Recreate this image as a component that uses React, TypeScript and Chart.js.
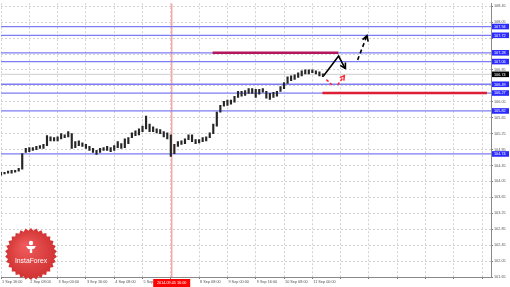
import React, { useEffect, useRef } from 'react';
import { Chart, registerables } from 'chart.js';

Chart.register(...registerables);

// ---- price data (H1 chart, sampled as 2-hour ranges) ----
const barHours = [
  0, 2, 4, 6, 8, 10, 12, 14, 16, 18, 20, 22, 24, 26, 28, 30, 32, 34, 36, 38,
  40, 42, 44, 46, 48, 50, 52, 54, 56, 58, 60, 62, 64, 66, 68, 70, 72, 74, 76, 78,
  80, 82, 84, 86, 88, 90, 92, 94, 96, 98, 100, 102, 104, 106, 108, 110, 112, 114, 116, 118,
  120, 122, 124, 126, 128, 130, 132, 134, 136, 138, 140, 142, 144, 146, 148, 150, 152, 154, 156, 158,
  160, 162, 164, 166, 168, 170, 172, 174, 176, 178, 180, 182,
];
const barLows = [
  104.21, 104.24, 104.26, 104.26, 104.28, 104.31, 104.36, 104.78, 104.80, 104.83,
  104.85, 104.88, 104.88, 104.95, 105.07, 105.07, 105.07, 105.12, 105.15, 105.17,
  104.88, 104.90, 104.95, 104.93, 104.88, 104.83, 104.78, 104.73, 104.78, 104.83,
  104.83, 104.80, 104.83, 104.90, 104.88, 104.90, 105.00, 105.15, 105.20, 105.22,
  105.30, 105.37, 105.30, 105.30, 105.27, 105.25, 105.17, 105.12, 104.68, 104.75,
  104.93, 104.98, 105.00, 105.10, 105.05, 105.00, 105.02, 105.05, 105.07, 105.15,
  105.25, 105.44, 105.79, 105.94, 105.96, 105.99, 106.04, 106.16, 106.19, 106.21,
  106.26, 106.26, 106.16, 106.24, 106.29, 106.14, 106.11, 106.16, 106.19, 106.31,
  106.38, 106.51, 106.58, 106.61, 106.66, 106.70, 106.75, 106.75, 106.78, 106.75,
  106.70, 106.68,
];
const barHighs = [
  104.28, 104.28, 104.31, 104.33, 104.33, 104.38, 104.75, 104.88, 104.90, 104.90,
  104.93, 104.95, 104.98, 105.20, 105.17, 105.15, 105.17, 105.25, 105.22, 105.30,
  105.25, 105.05, 105.07, 105.02, 104.98, 104.93, 104.88, 104.83, 104.88, 104.90,
  104.93, 104.90, 104.95, 105.05, 105.00, 105.12, 105.15, 105.27, 105.32, 105.37,
  105.44, 105.69, 105.49, 105.42, 105.37, 105.35, 105.30, 105.27, 105.22, 104.98,
  105.05, 105.07, 105.12, 105.22, 105.22, 105.10, 105.10, 105.15, 105.17, 105.27,
  105.49, 105.79, 105.96, 106.06, 106.09, 106.09, 106.19, 106.31, 106.31, 106.33,
  106.38, 106.38, 106.36, 106.36, 106.38, 106.31, 106.26, 106.29, 106.31, 106.43,
  106.53, 106.68, 106.70, 106.73, 106.78, 106.83, 106.85, 106.85, 106.85, 106.83,
  106.80, 106.75,
];

// ---- axes ----
const xMin = 0;
const xMax = 277;
const xTickHours = [0, 16, 32, 48, 64, 80, 96, 112, 128, 144, 160, 176, 192, 208, 224, 240, 256, 272];
const xTickLabels = [
  '1 Sep 16:00', '2 Sep 08:00', '3 Sep 00:00', '3 Sep 16:00', '4 Sep 08:00', '5 Sep 00:00',
  '', '8 Sep 08:00', '9 Sep 00:00', '9 Sep 16:00', '10 Sep 08:00', '11 Sep 00:00',
];
const highlightHour = 96.5;
const highlightLabel = '2014.09.05 16:00';

const yMin = 101.65;
const yMax = 108.524;
const yTickValues = [
  101.65, 102.05, 102.45, 102.85, 103.25, 103.65, 104.05, 104.45, 104.85,
  105.25, 105.65, 106.05, 106.45, 106.85, 107.25, 107.65, 108.05, 108.45,
];

// ---- drawn levels ----
const blueLevels = [107.94, 107.72, 107.28, 107.06, 106.49, 106.27, 105.82, 104.74];
const currentPrice = 106.74;
const magentaHours = [119.6, 190.7];
const magentaPrice = 107.28;
const redHours = [181.7, 274.7];
const redPrice = 106.27;

// ---- forecast arrows ----
const blackPathHours = [182.4, 190.85, 194.6];
const blackPathPrices = [106.705, 107.2, 106.886];
const blackHeadHours = [191.75, 194.6, 194.7];
const blackHeadPrices = [106.966, 106.886, 107.035];
const blackDashHours = [201.6, 206.9];
const blackDashPrices = [107.102, 107.713];
const blackDashHeadHours = [204.4, 206.9, 207.55];
const blackDashHeadPrices = [107.613, 107.713, 107.559];
const redDash1Hours = [183.9, 188.0];
const redDash1Prices = [106.606, 106.44];
const redDash2Hours = [190.3, 194.1];
const redDash2Prices = [106.472, 106.705];
const redHeadHours = [191.5, 194.1, 193.8];
const redHeadPrices = [106.656, 106.705, 106.581];

const FONT = 'Liberation Sans, Arial, sans-serif';

const pts = (xs: number[], ys: number[]) => xs.map((x, i) => ({ x, y: ys[i] }));

const overlayPlugin = {
  id: 'overlay',
  afterDraw(chart: any) {
    const { ctx, chartArea, scales } = chart;
    const ys = scales.y;
    const xs = scales.x;
    ctx.save();
    // y axis price boxes
    ctx.font = `3.8px ${FONT}`;
    ctx.textBaseline = 'middle';
    ctx.textAlign = 'left';
    const boxes = blueLevels.map((v) => ({ v, bg: '#2a2aff' })).concat([{ v: currentPrice, bg: '#000000' }]);
    boxes.forEach(({ v, bg }) => {
      const py = ys.getPixelForValue(v);
      ctx.fillStyle = bg;
      ctx.fillRect(chartArea.right + 1, py - 2.8, 17, 5.6);
      ctx.fillStyle = '#ffffff';
      ctx.fillText(v.toFixed(2), chartArea.right + 3, py + 0.2);
    });
    // x highlight label
    const hx = xs.getPixelForValue(highlightHour);
    ctx.fillStyle = '#ff0000';
    ctx.fillRect(hx - 18.5, chartArea.bottom + 2, 37, 8);
    ctx.fillStyle = '#ffffff';
    ctx.textAlign = 'center';
    ctx.font = `3.8px ${FONT}`;
    ctx.fillText(highlightLabel, hx, chartArea.bottom + 6.2);

    // InstaForex logo (decoration)
    const cx = 31;
    const cy = 254;
    const teeth = 30;
    ctx.beginPath();
    for (let i = 0; i < teeth * 2; i++) {
      const r = i % 2 === 0 ? 26 : 23.5;
      const a = (Math.PI * i) / teeth - Math.PI / 2;
      const px = cx + r * Math.cos(a);
      const py = cy + r * Math.sin(a);
      if (i === 0) ctx.moveTo(px, py);
      else ctx.lineTo(px, py);
    }
    ctx.closePath();
    const g = ctx.createRadialGradient(cx - 6, cy - 8, 2, cx, cy, 27);
    g.addColorStop(0, '#ee5a5a');
    g.addColorStop(1, '#d03030');
    ctx.fillStyle = g;
    ctx.fill();
    // icon
    ctx.fillStyle = '#ffffff';
    ctx.beginPath();
    ctx.arc(cx, cy - 11, 2.2, 0, Math.PI * 2);
    ctx.fill();
    ctx.beginPath();
    ctx.moveTo(cx - 5, cy - 8);
    ctx.lineTo(cx + 5, cy - 8);
    ctx.lineTo(cx + 3, cy - 5);
    ctx.lineTo(cx + 1.2, cy - 5);
    ctx.lineTo(cx + 1.2, cy - 1);
    ctx.lineTo(cx - 1.2, cy - 1);
    ctx.lineTo(cx - 1.2, cy - 5);
    ctx.lineTo(cx - 3, cy - 5);
    ctx.closePath();
    ctx.fill();
    ctx.font = `6.8px ${FONT}`;
    ctx.textAlign = 'center';
    ctx.textBaseline = 'middle';
    ctx.fillText('InstaForex', cx, cy + 7);
    ctx.restore();
  },
};

export default function App() {
  const canvasRef = useRef<HTMLCanvasElement | null>(null);

  useEffect(() => {
    document.body.style.margin = '0';
    const canvas = canvasRef.current;
    if (!canvas) return;

    const levelDatasets = blueLevels.map((v) => ({
      type: 'line' as const,
      data: pts([xMin, xMax], [v, v]),
      borderColor: '#7c7cf6',
      borderWidth: 1.3,
      pointRadius: 0,
      order: 5,
    }));

    const chart = new Chart(canvas, {
      type: 'bar',
      data: {
        datasets: [
          {
            type: 'bar',
            data: barHours.map((h, i) => ({ x: h, y: [barLows[i], barHighs[i]] })) as any,
            backgroundColor: '#262626',
            borderWidth: 0,
            barThickness: 1.5,
            order: 0,
          },
          ...levelDatasets,
          {
            type: 'line',
            data: pts([xMin, xMax], [currentPrice, currentPrice]),
            borderColor: '#cfcfcf',
            borderWidth: 1,
            pointRadius: 0,
            order: 6,
          },
          {
            type: 'line',
            data: pts([highlightHour, highlightHour], [yMin, yMax]),
            borderColor: '#ffa4a4',
            borderWidth: 1.5,
            pointRadius: 0,
            order: 7,
          },
          {
            type: 'line',
            data: pts(magentaHours, [magentaPrice, magentaPrice]),
            borderColor: '#b3185f',
            borderWidth: 2.6,
            pointRadius: 0,
            order: 3,
          },
          {
            type: 'line',
            data: pts(redHours, [redPrice, redPrice]),
            borderColor: '#dc1f35',
            borderWidth: 2.6,
            pointRadius: 0,
            order: 3,
          },
          {
            type: 'line',
            data: pts(blackPathHours, blackPathPrices),
            borderColor: '#000000',
            borderWidth: 1.6,
            pointRadius: 0,
            tension: 0,
            order: 1,
          },
          {
            type: 'line',
            data: pts(blackHeadHours, blackHeadPrices),
            borderColor: '#000000',
            borderWidth: 1.6,
            pointRadius: 0,
            order: 1,
          },
          {
            type: 'line',
            data: pts(blackDashHours, blackDashPrices),
            borderColor: '#000000',
            borderWidth: 1.6,
            borderDash: [4, 3],
            pointRadius: 0,
            order: 1,
          },
          {
            type: 'line',
            data: pts(blackDashHeadHours, blackDashHeadPrices),
            borderColor: '#000000',
            borderWidth: 1.6,
            pointRadius: 0,
            order: 1,
          },
          {
            type: 'line',
            data: pts(redDash1Hours, redDash1Prices),
            borderColor: '#ff2a3a',
            borderWidth: 1.5,
            borderDash: [3, 2],
            pointRadius: 0,
            order: 1,
          },
          {
            type: 'line',
            data: pts(redDash2Hours, redDash2Prices),
            borderColor: '#ff2a3a',
            borderWidth: 1.5,
            borderDash: [3, 2],
            pointRadius: 0,
            order: 1,
          },
          {
            type: 'line',
            data: pts(redHeadHours, redHeadPrices),
            borderColor: '#ff2a3a',
            borderWidth: 1.5,
            pointRadius: 0,
            order: 1,
          },
        ] as any,
      },
      options: {
        responsive: false,
        animation: false,
        devicePixelRatio: 1,
        layout: { padding: 0, autoPadding: false } as any,
        plugins: {
          legend: { display: false },
          tooltip: { enabled: false },
        },
        scales: {
          x: {
            type: 'linear',
            position: 'bottom',
            min: xMin,
            max: xMax,
            offset: false,
            afterBuildTicks: (s: any) => {
              s.ticks = xTickHours.map((v) => ({ value: v }));
            },
            afterFit: (s: any) => {
              s.height = 10;
            },
            ticks: {
              autoSkip: false,
              maxRotation: 0,
              minRotation: 0,
              align: 'start',
              padding: 1,
              labelOffset: 1,
              color: '#555555',
              font: { family: FONT, size: 3.8 },
              callback: (_v: any, i: number) => xTickLabels[i] ?? '',
            },
            grid: { color: '#d2d2d2', tickColor: '#777777', tickLength: 2, offset: false },
            border: { display: true, color: '#8a8a8a', width: 1, dash: [2, 2] },
          },
          y: {
            type: 'linear',
            position: 'right',
            min: yMin,
            max: yMax,
            afterBuildTicks: (s: any) => {
              s.ticks = yTickValues.map((v) => ({ value: v }));
            },
            afterFit: (s: any) => {
              s.width = 19;
            },
            ticks: {
              autoSkip: false,
              padding: 1,
              color: '#555555',
              font: { family: FONT, size: 3.8 },
              callback: (v: any) => {
                const n = Number(v);
                const hidden = blueLevels.some((b) => Math.abs(b - n) < 0.08);
                return hidden ? '' : n.toFixed(2);
              },
            },
            grid: { color: '#d2d2d2', tickColor: '#777777', tickLength: 2 },
            border: { display: true, color: '#8a8a8a', width: 1, dash: [2, 2] },
          },
        },
      },
      plugins: [overlayPlugin],
    } as any);

    return () => {
      chart.destroy();
    };
  }, []);

  return (
    <div style={{ width: 510, height: 287 }}>
      <canvas ref={canvasRef} width={510} height={287} style={{ display: 'block' }} />
    </div>
  );
}
